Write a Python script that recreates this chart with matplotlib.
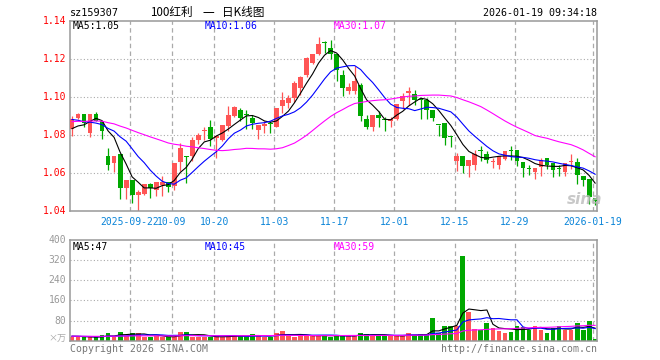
import numpy as np
import pandas as pd
import matplotlib
matplotlib.use('Agg')
import matplotlib.pyplot as plt

plt.rcParams['lines.scale_dashes'] = False
plt.rcParams['font.family'] = ['DejaVu Sans Mono', 'Noto Sans CJK SC']

# ---------------- data ----------------
opens = [1.083, 1.089, 1.091, 1.081, 1.091, 1.087, 1.069, 1.065, 1.070, 1.052,
         1.056, 1.048, 1.049, 1.054, 1.051, 1.0535, 1.055, 1.053, 1.0655, 1.069,
         1.069, 1.077, 1.082, 1.084, 1.078, 1.077, 1.0845, 1.090, 1.093, 1.0908,
         1.089, 1.0823, 1.0845, 1.086, 1.0842, 1.0951, 1.0965, 1.0991, 1.1046, 1.1116,
         1.1179, 1.1226, 1.1286, 1.1256, 1.1226, 1.1116, 1.1028, 1.1028, 1.1063, 1.0882,
         1.084, 1.0905, 1.0879, 1.087, 1.0882, 1.0975, 1.1019, 1.1016, 1.0982, 1.0984,
         1.0932, 1.0853, 1.0861, 1.0789, 1.066, 1.0689, 1.0633, 1.0642, 1.0718, 1.070,
         1.0658, 1.0642, 1.0672, 1.0714, 1.0721, 1.0654, 1.0621, 1.0602, 1.063, 1.0677,
         1.0651, 1.062, 1.0602, 1.0654, 1.0654, 1.058, 1.0567, 1.0467]
highs = [1.090, 1.0914, 1.091, 1.091, 1.092, 1.087, 1.073, 1.069, 1.070, 1.056,
         1.056, 1.051, 1.054, 1.0545, 1.055, 1.058, 1.055, 1.065, 1.0755, 1.069,
         1.079, 1.081, 1.084, 1.0875, 1.080, 1.085, 1.095, 1.095, 1.094, 1.093,
         1.0905, 1.085, 1.0874, 1.087, 1.094, 1.1026, 1.1009, 1.108, 1.111, 1.121,
         1.1225, 1.1316, 1.1295, 1.1298, 1.1226, 1.1142, 1.1072, 1.116, 1.1072, 1.0905,
         1.0905, 1.0923, 1.0893, 1.0893, 1.0963, 1.1019, 1.1051, 1.1037, 1.0993, 1.0993,
         1.0932, 1.0853, 1.0861, 1.0791, 1.0704, 1.0689, 1.0668, 1.0721, 1.0742, 1.0712,
         1.0677, 1.0689, 1.0712, 1.0742, 1.0721, 1.0654, 1.0642, 1.0625, 1.0677, 1.0677,
         1.0651, 1.0642, 1.0651, 1.070, 1.0677, 1.058, 1.0567, 1.0467]
lows = [1.0795, 1.088, 1.084, 1.0786, 1.087, 1.0775, 1.0614, 1.0605, 1.0463, 1.0463,
        1.044, 1.040, 1.048, 1.0465, 1.0475, 1.0475, 1.050, 1.051, 1.061, 1.0545,
        1.066, 1.075, 1.077, 1.074, 1.0677, 1.0765, 1.082, 1.0893, 1.087, 1.083,
        1.083, 1.0775, 1.0807, 1.081, 1.084, 1.0916, 1.0939, 1.0974, 1.101, 1.1105,
        1.117, 1.122, 1.123, 1.1198, 1.1081, 1.1005, 1.1016, 1.1016, 1.087, 1.083,
        1.0818, 1.084, 1.0818, 1.084, 1.0875, 1.0935, 1.0958, 1.0958, 1.0882, 1.0882,
        1.087, 1.0791, 1.0747, 1.0733, 1.0607, 1.0598, 1.0577, 1.0616, 1.066, 1.0651,
        1.0625, 1.0619, 1.0665, 1.0665, 1.0635, 1.0577, 1.059, 1.0567, 1.0584, 1.0619,
        1.0577, 1.0581, 1.0584, 1.0619, 1.0542, 1.0532, 1.0437, 1.0432]
closes = [1.088, 1.091, 1.086, 1.091, 1.087, 1.082, 1.064, 1.069, 1.052, 1.056,
          1.048, 1.050, 1.054, 1.052, 1.055, 1.055, 1.0525, 1.065, 1.073, 1.0685,
          1.077, 1.080, 1.0825, 1.0775, 1.0795, 1.085, 1.0905, 1.0945, 1.089, 1.0905,
          1.086, 1.0852, 1.0855, 1.0855, 1.0939, 1.0982, 1.0991, 1.1074, 1.1105, 1.1202,
          1.1225, 1.1277, 1.1284, 1.1226, 1.1139, 1.1046, 1.1051, 1.1084, 1.0896, 1.084,
          1.0905, 1.0888, 1.0877, 1.0882, 1.0963, 1.1005, 1.1028, 1.0984, 1.0981, 1.0932,
          1.0888, 1.0852, 1.0782, 1.0788, 1.0689, 1.0633, 1.0668, 1.070, 1.0714, 1.0668,
          1.066, 1.0689, 1.0712, 1.0712, 1.066, 1.0625, 1.0619, 1.0625, 1.0665, 1.0642,
          1.0616, 1.0618, 1.0651, 1.0656, 1.0589, 1.056, 1.0472, 1.0449]
volumes = [16, 16, 13, 13, 13, 22, 32, 13, 36, 18,
           32, 32, 16, 16, 18, 16, 13, 16, 36, 36,
           16, 16, 13, 16, 18, 16, 18, 20, 20, 18,
           27, 18, 16, 16, 30, 40, 20, 16, 18, 24,
           22, 20, 18, 16, 24, 19, 19, 19, 32, 27,
           23, 19, 19, 19, 19, 19, 32, 21, 27, 23,
           92, 32, 60, 60, 60, 336, 113, 45, 44, 72,
           52, 40, 32, 36, 60, 56, 44, 60, 44, 32,
           52, 60, 44, 44, 72, 44, 80, 8]
# closes / volumes before the first visible day (only feed the moving averages)
prior_closes = [1.086, 1.087, 1.086, 1.085, 1.086, 1.087, 1.088, 1.087, 1.086, 1.085,
                1.086, 1.087, 1.086, 1.086, 1.087, 1.086, 1.085, 1.086, 1.087, 1.087,
                1.095, 1.094, 1.093, 1.092, 1.090, 1.084, 1.083, 1.082, 1.079]
prior_volumes = [18] * 29

holidays = ['2025-10-01', '2025-10-02', '2025-10-03', '2025-10-06', '2025-10-07',
            '2025-10-08', '2026-01-01', '2026-01-02']
tick_dates = ['2025-09-22', '2025-10-09', '2025-10-20', '2025-11-03', '2025-11-17',
              '2025-12-01', '2025-12-15', '2025-12-29', '2026-01-19']
tick_labels = ['2025-09-22', '10-09', '10-20', '11-03', '11-17', '12-01', '12-15',
               '12-29', '2026-01-19']
price_ticks = [1.04, 1.06, 1.08, 1.10, 1.12, 1.14]
vol_ticks = [80, 160, 240, 320, 400]

title_code = 'sz159307'
title_name = '100红利 一 日K线图'
stamp = '2026-01-19 09:34:18'
ma_price_labels = ['MA5:1.05', 'MA10:1.06', 'MA30:1.07']
ma_vol_labels = ['MA5:47', 'MA10:45', 'MA30:59']

# ---------------- derived ----------------
days = pd.bdate_range('2025-09-08', '2026-01-19')
days = days[~days.isin(pd.to_datetime(holidays))]
x = np.arange(len(days))
o = np.array(opens); h = np.array(highs); l = np.array(lows); c = np.array(closes)
v = np.array(volumes, dtype=float)
up = c >= o
RED = '#ff5555'; GREEN = '#00a800'
cols = np.where(up, RED, GREEN)

def mavg(prior, vals, n):
    s = pd.Series(list(prior) + list(vals)).rolling(n).mean().values
    return s[len(prior):]

ma_colors = ['#000000', '#0000ff', '#ff00ff']
pma = [mavg(prior_closes, c, n) for n in (5, 10, 30)]
vma = [mavg(prior_volumes, v, n) for n in (5, 10, 30)]

tick_idx = [int(np.where(days == pd.Timestamp(d))[0][0]) for d in tick_dates]
grid_x = [t - 0.37 for t in tick_idx]

W, H = 660, 360
fig = plt.figure(figsize=(6.6, 3.6), dpi=100)
L, R = 70, 597
ax = fig.add_axes([L / W, 1 - 210.7 / H, (R - L) / W, 190 / H])
axv = fig.add_axes([L / W, 1 - 340.7 / H, (R - L) / W, 100.7 / H])
XL = (-0.333, 87.31)

GRID = '#aaaaaa'
for a in (ax, axv):
    a.set_xlim(*XL)
    a.set_xticks([]); a.set_yticks([])
    for s in a.spines.values():
        s.set_color('#999999'); s.set_linewidth(1.1)
    for gx in grid_x:
        a.axvline(gx, color=GRID, lw=0.9, dashes=(3.2, 2.4), zorder=1)

ax.set_ylim(1.04, 1.14)
for p in price_ticks[1:-1]:
    ax.axhline(p, color=GRID, lw=0.8, dashes=(0.8, 1.6), zorder=1)
axv.set_ylim(0, 400)
for t in vol_ticks[:-1]:
    axv.axhline(t, color=GRID, lw=0.8, dashes=(0.8, 1.6), zorder=1)

bw = 0.8
ax.vlines(x, l, h, colors=cols, lw=0.9, zorder=2)
body_h = np.maximum(np.abs(c - o), 0.0005)
ax.bar(x, body_h, bottom=np.minimum(o, c), width=bw, color=cols, lw=0, zorder=3)
for m, col in zip(pma, ma_colors):
    ax.plot(x, m, color=col, lw=0.8, zorder=4)

axv.bar(x, v, width=bw, color=cols, lw=0, zorder=2)
for m, col in zip(vma, ma_colors):
    axv.plot(x, m, color=col, lw=0.8, zorder=4)

# y labels
for p in price_ticks:
    ax.text(-4 / (R - L), p, f'{p:.2f}', transform=ax.get_yaxis_transform(),
            ha='right', va='center', color='#ff0000', fontsize=7)
for t in vol_ticks:
    axv.text(-4 / (R - L), t, f'{t}', transform=axv.get_yaxis_transform(),
             ha='right', va='center', color='#999999', fontsize=7)
fig.text(66 / W, 1 - 339 / H, '×万', ha='right', va='center', color='#aaaaaa',
         fontsize=6.5, family=['Noto Sans CJK SC', 'DejaVu Sans'])

# x labels
for gx, lab in zip(grid_x, tick_labels):
    ax.text(gx, -11 / 190, lab, transform=ax.get_xaxis_transform(), ha='center',
            va='center', color='#0a84d8', fontsize=7)

# legends
xs = [73, 205, 334]
for xx, lab, col in zip(xs, ma_price_labels, ma_colors):
    fig.text(xx / W, 1 - 26 / H, lab, color=col, fontsize=7, va='center', ha='left')
for xx, lab, col in zip(xs, ma_vol_labels, ma_colors):
    fig.text(xx / W, 1 - 246.5 / H, lab, color=col, fontsize=7, va='center', ha='left')

# titles
fig.text(70 / W, 1 - 13.3 / H, title_code, fontsize=7.3, va='center', ha='left')
for xx, part in zip([150, 202.5, 221.5], title_name.split(' ')):
    fig.text(xx / W, 1 - 12.5 / H, part, fontsize=8.4, va='center', ha='left',
             family=['Noto Sans CJK SC', 'DejaVu Sans'])
fig.text(597 / W, 1 - 13 / H, stamp, fontsize=7.2, va='center', ha='right')
fig.text(70 / W, 1 - 348.5 / H, 'Copyright 2026 SINA.COM', fontsize=7.1, color='#777777',
         va='center', ha='left')
fig.text(597 / W, 1 - 348.5 / H, 'http://finance.sina.com.cn', fontsize=7.1,
         color='#777777', va='center', ha='right')
# watermark
fig.text(585 / W, 1 - 199 / H, 'sina', fontsize=11, color='#bbbbbb', style='italic',
         weight='bold', ha='center', va='center', family='DejaVu Sans', alpha=0.8)

fig.savefig('out.png', dpi=100)
